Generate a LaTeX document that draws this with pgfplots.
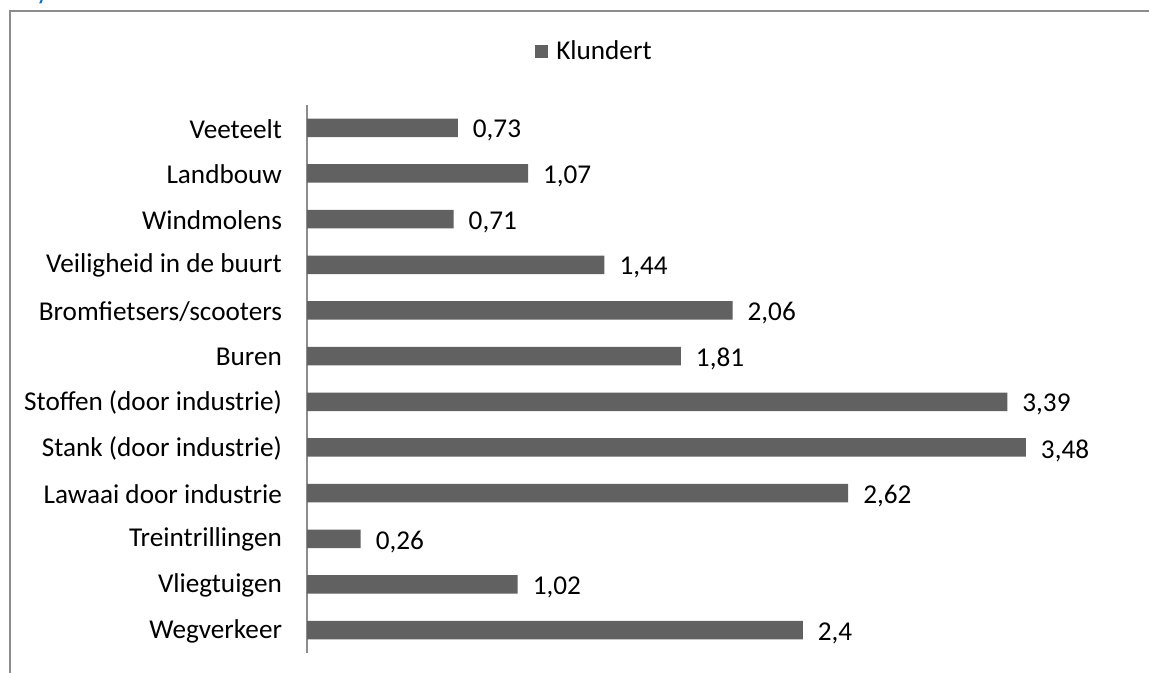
\documentclass[border=0pt]{standalone}
\usepackage{pgfplots}
\pgfplotsset{compat=1.18}
\usepackage{fontspec}
\setmainfont{Carlito}
\definecolor{barcol}{HTML}{616161}
\definecolor{framecol}{HTML}{8C8C8C}
\definecolor{titleblue}{HTML}{0070C0}

\pgfplotstableread{
idx val
0  2.4
1  1.02
2  0.26
3  2.62
4  3.48
5  3.39
6  1.81
7  2.06
8  1.44
9  0.71
10 1.07
11 0.73
}\hinder

\begin{document}
\begin{tikzpicture}[font=\fontsize{13.6}{15}\selectfont]
  \clip (0,0) rectangle (574.5pt,336.5pt);
  % frame of the chart area
  \draw[framecol, line width=0.9pt] (5pt,-5pt) -- (5pt,331pt) -- (590pt,331pt);
  % cut-off heading above the frame
  \node[anchor=base west, inner sep=0pt, text=titleblue] at (18pt,336.6pt) {y};
  \begin{axis}[
      at={(153.5pt,10pt)}, anchor=south west,
      scale only axis, width=392.5pt, height=274pt,
      xbar, bar width=9.25pt,
      xmin=0, xmax=3.8, ymin=-0.5, ymax=11.5,
      axis x line=none, axis y line*=left,
      y axis line style={framecol, line width=0.8pt, -},
      ytick=data, major tick length=0pt,
      yticklabels={Wegverkeer, Vliegtuigen, Treintrillingen, Lawaai door industrie,
        Stank (door industrie), Stoffen (door industrie), Buren,
        Bromfietsers/scooters, Veiligheid in de buurt, Windmolens, Landbouw, Veeteelt},
      yticklabel style={xshift=-9pt, yshift=-0.5pt},
      nodes near coords,
      nodes near coords style={anchor=west, xshift=4pt, yshift=-1.5pt, text=black},
      /pgf/number format/.cd, use comma, fixed, precision=2, assume math mode=true,
      /pgfplots/.cd,
      legend style={at={(axis description cs:0.370,1.0967)}, anchor=center,
        draw=none, fill=none, nodes={inner xsep=4pt}},
      legend image code/.code={\fill[barcol] (0pt,-3.2pt) rectangle (6.5pt,3.3pt);},
    ]
    \addplot[fill=barcol, draw=none] table[x=val, y=idx] {\hinder};
    \addlegendentry{Klundert}
  \end{axis}
\end{tikzpicture}
\end{document}
